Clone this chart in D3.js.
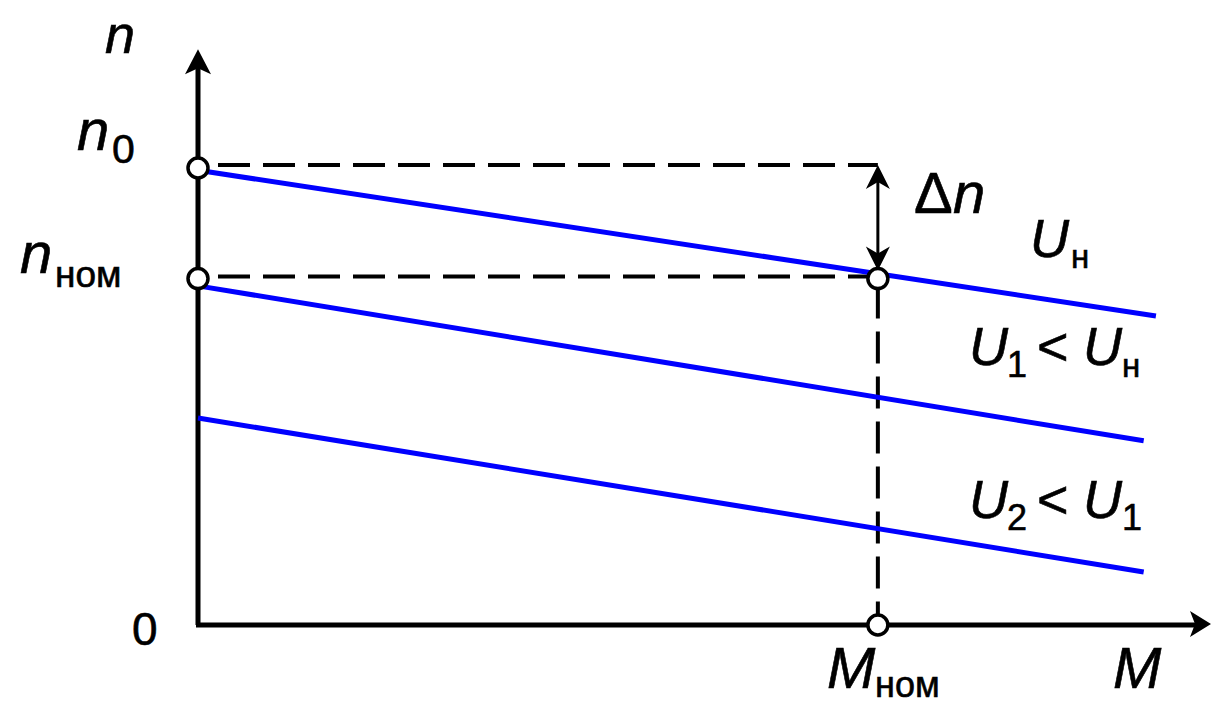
<!DOCTYPE html>
<html>
<head>
<meta charset="utf-8">
<script src="https://cdn.jsdelivr.net/npm/d3@7"></script>
<style>
  body { margin: 0; background: #fff; }
  text, tspan { font-family: Arial, "Liberation Sans", Helvetica, sans-serif; fill: #000; stroke: #000; stroke-width: 0.6px; }
</style>
</head>
<body>
<div id="chart"></div>
<script>
// characteristic lines n(M) for three supply voltages
const seriesNames = ["Uн", "U1 < Uн", "U2 < U1"];
const lineStart = [0.995, 0.742, 0.453];   // n at M = 0
const lineEndM = [1.409, 1.391, 1.391];
const lineEnd = [0.676, 0.403, 0.116];     // n at the right end

const n0 = 1.0;
const nNom = 0.758;
const mNom = 1.0;
const mMax = 1.49;
const nMax = 1.26;

const W = 1211, H = 705;
const svg = d3.select("#chart").append("svg")
  .attr("width", W).attr("height", H);

const x = d3.scaleLinear().domain([0, mMax]).range([198, 1211]);
const y = d3.scaleLinear().domain([0, n0]).range([625, 168]);

// axes
svg.append("line")
  .attr("x1", x(0)).attr("y1", y(0))
  .attr("x2", x(0)).attr("y2", y(nMax) + 10)
  .attr("stroke", "#000").attr("stroke-width", 5);
svg.append("line")
  .attr("x1", x(0) - 2).attr("y1", y(0))
  .attr("x2", x(mMax) - 10).attr("y2", y(0))
  .attr("stroke", "#000").attr("stroke-width", 5);

function arrowHead(tx, ty, angle, len, half, notch) {
  // tip at (tx,ty), pointing along angle (radians)
  const c = Math.cos(angle), s = Math.sin(angle);
  const pt = (a, b) => [tx - a * c - b * s, ty - a * s + b * c];
  const p = [pt(0, 0), pt(len, half), pt(len - notch, 0), pt(len, -half)];
  return "M" + p.map(d => d.join(",")).join("L") + "Z";
}

svg.append("path")
  .attr("d", arrowHead(x(0), y(nMax), -Math.PI / 2, 25, 13, 6))
  .attr("fill", "#000");
svg.append("path")
  .attr("d", arrowHead(x(mMax), y(0) - 1, 0, 21, 13, 5))
  .attr("fill", "#000");

// dashed guides
const dash = "32,13";
svg.append("line")
  .attr("x1", x(0) + 10).attr("y1", y(n0) - 3)
  .attr("x2", x(mNom)).attr("y2", y(n0) - 3)
  .attr("stroke", "#000").attr("stroke-width", 4)
  .attr("stroke-dasharray", dash).attr("stroke-dashoffset", -10);
svg.append("line")
  .attr("x1", x(0) + 10).attr("y1", y(nNom) - 2)
  .attr("x2", x(mNom)).attr("y2", y(nNom) - 2)
  .attr("stroke", "#000").attr("stroke-width", 4)
  .attr("stroke-dasharray", dash).attr("stroke-dashoffset", -10);
svg.append("line")
  .attr("x1", x(mNom)).attr("y1", y(nNom))
  .attr("x2", x(mNom)).attr("y2", y(0))
  .attr("stroke", "#000").attr("stroke-width", 4)
  .attr("stroke-dasharray", dash).attr("stroke-dashoffset", -8);

// delta n double arrow
svg.append("line")
  .attr("x1", x(mNom)).attr("y1", y(n0) + 10)
  .attr("x2", x(mNom)).attr("y2", y(nNom) - 15)
  .attr("stroke", "#000").attr("stroke-width", 3);
svg.append("path")
  .attr("d", arrowHead(x(mNom), y(n0) - 3, -Math.PI / 2, 24, 12, 7))
  .attr("fill", "#000");
svg.append("path")
  .attr("d", arrowHead(x(mNom), y(nNom) - 8, Math.PI / 2, 24, 12, 7))
  .attr("fill", "#000");

// characteristic lines
const lines = seriesNames.map((name, i) => ({
  name,
  pts: [[0, lineStart[i]], [lineEndM[i], lineEnd[i]]]
}));
const lineGen = d3.line().x(d => x(d[0])).y(d => y(d[1]));
svg.selectAll(".char").data(lines).enter().append("path")
  .attr("class", "char")
  .attr("d", d => lineGen(d.pts))
  .attr("fill", "none")
  .attr("stroke", "#0000ff")
  .attr("stroke-width", 5);

// marker circles
const circles = [[0, n0], [0, nNom], [mNom, nNom], [mNom, 0]];
svg.selectAll(".pt").data(circles).enter().append("circle")
  .attr("cx", d => x(d[0])).attr("cy", d => y(d[1]))
  .attr("r", 10)
  .attr("fill", "#fff").attr("stroke", "#000").attr("stroke-width", 3.5);

// labels: each part {t, x, y, size, it}
function label(parts) {
  const t = svg.append("text");
  parts.forEach(p => {
    t.append("tspan").text(p.t)
      .attr("x", p.x).attr("y", p.y)
      .attr("font-size", p.size)
      .attr("font-style", p.it ? "italic" : "normal");
  });
  return t;
}

label([{ t: "n", x: 105, y: 53, size: 54, it: true }]);
label([{ t: "n", x: 77, y: 150, size: 58, it: true },
       { t: "0", x: 112, y: 163, size: 41 }]);
label([{ t: "n", x: 20, y: 273, size: 58, it: true },
       { t: "ном", x: 55, y: 287, size: 37 }]);
label([{ t: "0", x: 132, y: 645, size: 46 }]);
label([{ t: "Δ", x: 914, y: 213, size: 58 },
       { t: "n", x: 953, y: 213, size: 58, it: true }]);
label([{ t: "U", x: 1030, y: 257, size: 54, it: true },
       { t: "н", x: 1071, y: 268, size: 33 }]);
label([{ t: "U", x: 969, y: 365, size: 54, it: true },
       { t: "1", x: 1007, y: 377, size: 36 },
       { t: "<", x: 1037, y: 365, size: 54 },
       { t: "U", x: 1083, y: 365, size: 54, it: true },
       { t: "н", x: 1122, y: 377, size: 33 }]);
label([{ t: "U", x: 969, y: 518, size: 54, it: true },
       { t: "2", x: 1007, y: 530, size: 36 },
       { t: "<", x: 1037, y: 518, size: 54 },
       { t: "U", x: 1083, y: 518, size: 54, it: true },
       { t: "1", x: 1122, y: 530, size: 36 }]);
label([{ t: "M", x: 827, y: 688, size: 58, it: true },
       { t: "ном", x: 875, y: 697, size: 36 }]);
label([{ t: "M", x: 1113, y: 688, size: 58, it: true }]);
</script>
</body>
</html>
